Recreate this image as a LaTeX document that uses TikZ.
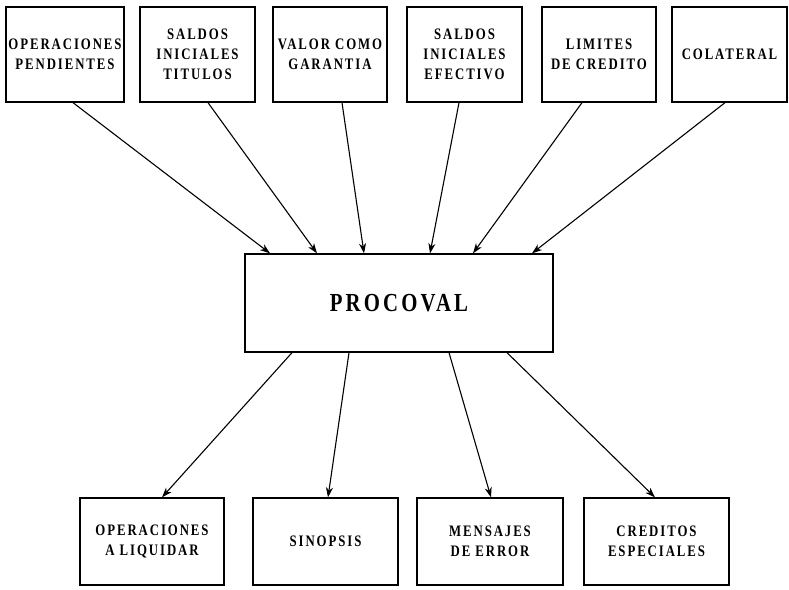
\documentclass[tikz,border=0pt]{standalone}
\usepackage{fontspec}
\setmainfont{Liberation Serif}[FakeStretch=0.8, LetterSpace=12]
\usetikzlibrary{arrows.meta}
\begin{document}
\begin{tikzpicture}[x=1pt, y=-1pt,
  box/.style={draw, line width=1.3pt, rectangle, align=center, inner sep=0pt,
    font=\bfseries\fontsize{16}{20}\selectfont},
  topbox/.style={box, minimum height=95pt},
  botbox/.style={box, minimum height=87pt},
  arr/.style={line width=1.1pt, -{Stealth[length=10pt, width=7pt, inset=3pt]}}]
\useasboundingbox (0,0) rectangle (789,589);
\fill[white] (0,0) rectangle (789,589);

% inputs
\node[topbox, minimum width=118pt] (t1) at (65,54.5)    {OPERACIONES\\PENDIENTES};
\node[topbox, minimum width=115pt] (t2) at (197.5,54.5) {SALDOS\\INICIALES\\TITULOS};
\node[topbox, minimum width=114pt] (t3) at (330,54.5)   {VALOR COMO\\GARANTIA};
\node[topbox, minimum width=115pt] (t4) at (464.5,54.5) {SALDOS\\INICIALES\\EFECTIVO};
\node[topbox, minimum width=114pt] (t5) at (599,54.5)   {LIMITES\\DE CREDITO};
\node[topbox, minimum width=115pt] (t6) at (729.5,54.5) {COLATERAL};

% central process
\node[box, minimum width=308pt, minimum height=98pt,
  font=\bfseries\fontsize{26}{30}\selectfont] (proc) at (399,303) {PROCOVAL};

% outputs
\node[botbox, minimum width=144pt] (b1) at (152,541.5)   {OPERACIONES\\A LIQUIDAR};
\node[botbox, minimum width=145pt] (b2) at (325.5,541.5) {SINOPSIS};
\node[botbox, minimum width=146pt] (b3) at (490,541.5)   {MENSAJES\\DE ERROR};
\node[botbox, minimum width=145pt] (b4) at (656.5,541.5) {CREDITOS\\ESPECIALES};

% connectors into the process
\draw[arr] ([xshift=8pt]t1.south)    -- ([xshift=-129pt]proc.north);
\draw[arr] ([xshift=10.5pt]t2.south) -- ([xshift=-82pt]proc.north);
\draw[arr] ([xshift=12pt]t3.south)   -- ([xshift=-35pt]proc.north);
\draw[arr] ([xshift=-5.5pt]t4.south) -- ([xshift=31pt]proc.north);
\draw[arr] ([xshift=-17pt]t5.south)  -- ([xshift=74pt]proc.north);
\draw[arr] ([xshift=-4.5pt]t6.south) -- ([xshift=133pt]proc.north);

% connectors out of the process
\draw[arr] ([xshift=-107pt]proc.south) -- ([xshift=10pt]b1.north);
\draw[arr] ([xshift=-50pt]proc.south)  -- ([xshift=2.5pt]b2.north);
\draw[arr] ([xshift=50pt]proc.south)   -- ([xshift=1pt]b3.north);
\draw[arr] ([xshift=108pt]proc.south)  -- ([xshift=-1.5pt]b4.north);
\end{tikzpicture}
\end{document}
